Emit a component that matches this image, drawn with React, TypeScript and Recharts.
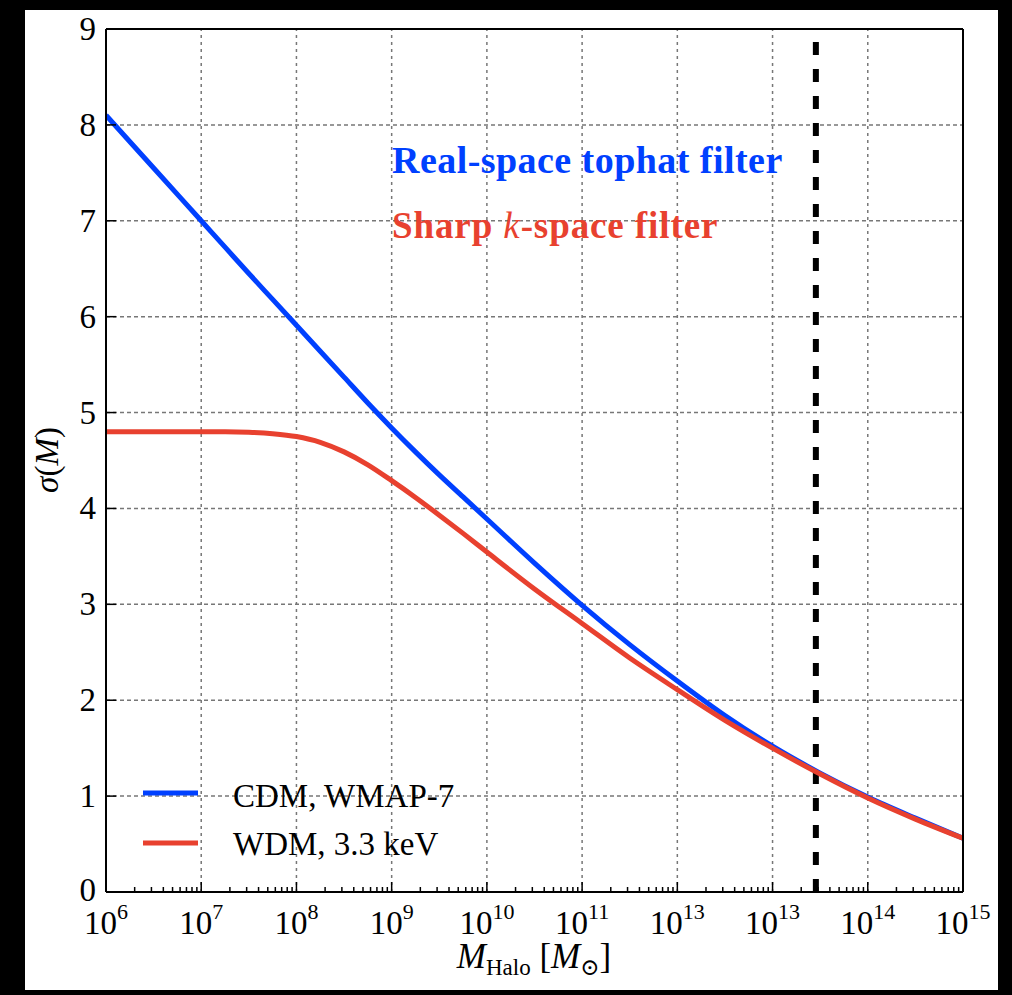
import React from 'react';
import { LineChart, Line, XAxis, YAxis, ReferenceLine } from 'recharts';

// log10 of halo mass [M_sun]
const logMass = [6, 6.5, 7, 7.25, 7.5, 7.75, 8, 8.25, 8.5, 8.75, 9, 9.25, 9.5, 9.75, 10, 10.5, 11, 11.5, 12, 12.5, 13, 13.5, 14, 14.5, 15];
const sigmaCDM = [8.1, 7.55, 7.0, 6.725, 6.45, 6.18, 5.91, 5.64, 5.37, 5.1, 4.84, 4.59, 4.35, 4.12, 3.89, 3.43, 2.99, 2.58, 2.2, 1.84, 1.52, 1.24, 0.99, 0.77, 0.56];
const sigmaWDM = [4.8, 4.8, 4.8, 4.8, 4.795, 4.78, 4.75, 4.69, 4.59, 4.455, 4.29, 4.115, 3.93, 3.74, 3.545, 3.16, 2.8, 2.44, 2.11, 1.79, 1.5, 1.23, 0.98, 0.76, 0.56];

const decades = [6, 7, 8, 9, 10, 11, 12, 13, 14, 15];
const decadeLabels = ['6', '7', '8', '9', '10', '11', '13', '13', '14', '15'];
const yTicks = [0, 1, 2, 3, 4, 5, 6, 7, 8, 9];
const cutoffMass = 2.85e13;

const BLUE = '#0040ff';
const RED = '#e8412f';
const FONT = '"Liberation Serif", "DejaVu Serif", serif';

const data = logMass.map((e, i) => ({ m: Math.pow(10, e), cdm: sigmaCDM[i], wdm: sigmaWDM[i] }));

const majorTicks = decades.map((e) => Math.pow(10, e));
const allTicks: number[] = [];
decades.forEach((e, i) => {
  allTicks.push(Math.pow(10, e));
  if (i < decades.length - 1) {
    for (let k = 2; k <= 9; k++) allTicks.push(k * Math.pow(10, e));
  }
});

const isMajor = (v: number) => {
  const l = Math.log10(v);
  return Math.abs(l - Math.round(l)) < 1e-6;
};

const BottomTick = (props: any) => {
  const { x, y, payload } = props;
  const v = payload.value;
  const major = isMajor(v);
  const idx = decades.indexOf(Math.round(Math.log10(v)));
  return (
    <g>
      <line x1={x} x2={x} y1={y} y2={y - (major ? 10 : 5)} stroke="#000" strokeWidth={1.5} />
      {major && (
        <text x={x} y={y + 42} textAnchor="middle" fontFamily={FONT} fontSize={33} fill="#000">
          10<tspan dy={-15} fontSize={22}>{decadeLabels[idx]}</tspan>
        </text>
      )}
    </g>
  );
};

const TopTick = (props: any) => {
  const { x, y, payload } = props;
  const major = isMajor(payload.value);
  return <line x1={x} x2={x} y1={y} y2={y + (major ? 10 : 5)} stroke="#000" strokeWidth={1.5} />;
};

const LeftTick = (props: any) => {
  const { x, y, payload } = props;
  return (
    <g>
      <line x1={x} x2={x + 10} y1={y} y2={y} stroke="#000" strokeWidth={1.5} />
      <text x={x - 10} y={y} dy={payload.value === 0 ? 9 : 11} textAnchor="end" fontFamily={FONT} fontSize={33} fill="#000">
        {payload.value}
      </text>
    </g>
  );
};

const RightTick = (props: any) => {
  const { x, y } = props;
  return <line x1={x} x2={x - 10} y1={y} y2={y} stroke="#000" strokeWidth={1.5} />;
};

const axisLine = { stroke: '#000', strokeWidth: 2 };

export default function App() {
  return (
    <div style={{ position: 'absolute', left: 0, top: 0, width: 1012, height: 995, background: '#000' }}>
      <div style={{ position: 'absolute', left: 25, top: 10, width: 973, height: 980, background: '#fff' }} />
      <div style={{ position: 'absolute', left: 0, top: 0 }}>
        <LineChart width={1012} height={995} data={data} margin={{ top: 28, left: 105, right: 48, bottom: 102 }}>
          <XAxis
            dataKey="m"
            type="number"
            scale="log"
            domain={[1e6, 1e15]}
            ticks={allTicks}
            interval={0}
            height={1}
            tickSize={0}
            tickMargin={0}
            tickLine={false}
            axisLine={axisLine}
            tick={<BottomTick />}
            allowDataOverflow
          />
          <XAxis
            xAxisId="top"
            orientation="top"
            type="number"
            scale="log"
            domain={[1e6, 1e15]}
            ticks={allTicks}
            interval={0}
            height={1}
            tickSize={0}
            tickMargin={0}
            tickLine={false}
            axisLine={axisLine}
            tick={<TopTick />}
            allowDataOverflow
          />
          <YAxis
            type="number"
            domain={[0, 9]}
            ticks={yTicks}
            interval={0}
            width={1}
            tickSize={0}
            tickMargin={0}
            tickLine={false}
            axisLine={axisLine}
            tick={<LeftTick />}
          />
          <YAxis
            yAxisId="right"
            orientation="right"
            type="number"
            domain={[0, 9]}
            ticks={yTicks}
            interval={0}
            width={1}
            tickSize={0}
            tickMargin={0}
            tickLine={false}
            axisLine={axisLine}
            tick={<RightTick />}
          />
          {majorTicks.slice(1, -1).map((v) => (
            <ReferenceLine key={'gx' + v} x={v} stroke="#777" strokeWidth={1.5} strokeDasharray="3 4" />
          ))}
          {yTicks.slice(1, -1).map((v) => (
            <ReferenceLine key={'gy' + v} y={v} stroke="#777" strokeWidth={1.5} strokeDasharray="4 3" />
          ))}
          <ReferenceLine x={cutoffMass} stroke="#000" strokeWidth={6} strokeDasharray="13 14" />
          <Line dataKey="cdm" type="monotone" stroke={BLUE} strokeWidth={5} dot={false} isAnimationActive={false} />
          <Line dataKey="wdm" type="monotone" stroke={RED} strokeWidth={5} dot={false} isAnimationActive={false} />
        </LineChart>
      </div>
      <svg width={1012} height={995} style={{ position: 'absolute', left: 0, top: 0, pointerEvents: 'none' }}>
        <text x={392} y={173} fontFamily={FONT} fontSize={38} fontWeight="bold" letterSpacing={0.45} fill={BLUE}>
          Real-space tophat filter
        </text>
        <text x={392} y={238} fontFamily={FONT} fontSize={37} fontWeight="bold" letterSpacing={0.9} fill={RED}>
          Sharp <tspan fontStyle="italic" fontWeight="normal">k</tspan>-space filter
        </text>
        <line x1={143} x2={198} y1={793} y2={793} stroke={BLUE} strokeWidth={5} />
        <line x1={143} x2={198} y1={843} y2={843} stroke={RED} strokeWidth={5} />
        <text x={233} y={807} fontFamily={FONT} fontSize={33} fill="#000">CDM, WMAP-7</text>
        <text x={233} y={855} fontFamily={FONT} fontSize={33} fill="#000">WDM, 3.3 keV</text>
        <text x={534} y={968} textAnchor="middle" fontFamily={FONT} fontSize={35} fill="#000">
          <tspan fontStyle="italic">M</tspan>
          <tspan fontSize={23} dy={7}>Halo</tspan>
          <tspan dy={-7}> [</tspan>
          <tspan fontStyle="italic">M</tspan>
          <tspan fontSize={23} dy={7}>⊙</tspan>
          <tspan dy={-7}>]</tspan>
        </text>
        <text
          x={47}
          y={460}
          textAnchor="middle"
          dominantBaseline="central"
          transform="rotate(-90 47 460)"
          fontFamily={FONT}
          fontSize={33}
          fill="#000"
        >
          <tspan fontStyle="italic">σ</tspan>(<tspan fontStyle="italic">M</tspan>)
        </text>
      </svg>
    </div>
  );
}
